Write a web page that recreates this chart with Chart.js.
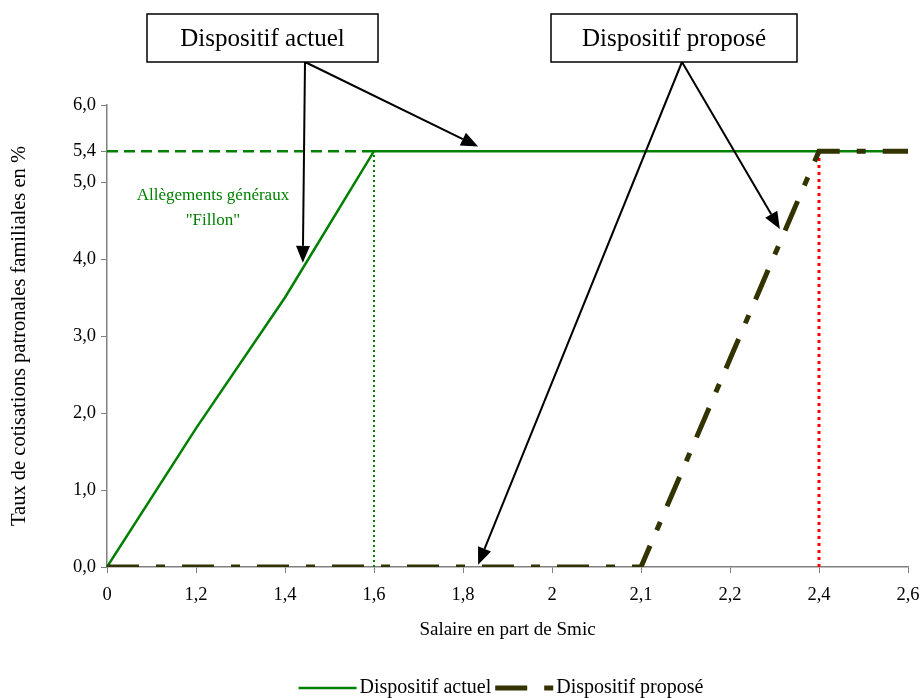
<!DOCTYPE html>
<html>
<head>
<meta charset="utf-8">
<script src="https://cdn.jsdelivr.net/npm/chart.js@4"></script>
<style>
  html, body { margin: 0; padding: 0; background: #fff; }
  #wrap { width: 922px; height: 698px; }
</style>
</head>
<body>
<div id="wrap"><canvas id="chart"></canvas></div>
<script>
// salaire en part de Smic (axe de catégories)
const categories = ['0', '1,2', '1,4', '1,6', '1,8', '2', '2,1', '2,2', '2,4', '2,6'];
const actuel = [0, 1.8, 3.5, 5.4, 5.4, 5.4, 5.4, 5.4, 5.4, 5.4];
const propose = [0, 0, 0, 0, 0, 0, 0, 2.7, 5.4, 5.4];
const yTicks = [0, 1, 2, 3, 4, 5, 5.4, 6];

const taux = 5.4;        // plafond des cotisations
const finActuel = 3;     // index de 1,6
const finPropose = 8;    // index de 2,4

const SERIF = '"Liberation Serif", "Times New Roman", serif';
const GREEN = '#008000';
const OLIVE = '#333300';

// repères pointillés
const guides = {
  id: 'guides',
  beforeDatasetsDraw(chart) {
    const { ctx, scales: { x, y } } = chart;
    const y0 = y.getPixelForValue(0), yT = y.getPixelForValue(taux);
    ctx.save();
    ctx.strokeStyle = GREEN;
    ctx.lineWidth = 2.5;
    ctx.setLineDash([11, 6]);
    ctx.beginPath();
    ctx.moveTo(x.getPixelForValue(0), yT);
    ctx.lineTo(x.getPixelForValue(finActuel), yT);
    ctx.stroke();

    ctx.lineWidth = 2;
    ctx.setLineDash([2, 3]);
    ctx.beginPath();
    ctx.moveTo(x.getPixelForValue(finActuel), y0);
    ctx.lineTo(x.getPixelForValue(finActuel), yT);
    ctx.stroke();

    ctx.strokeStyle = '#ff0000';
    ctx.lineWidth = 3;
    ctx.setLineDash([3, 4]);
    ctx.beginPath();
    ctx.moveTo(x.getPixelForValue(finPropose), y0);
    ctx.lineTo(x.getPixelForValue(finPropose), yT);
    ctx.stroke();
    ctx.restore();
  }
};

// encadrés + flèches
const callouts = [
  { text: 'Dispositif actuel', box: [147, 14, 231, 48], from: 305, to: [[2.2, 3.95], [4.17, 5.46]] },
  { text: 'Dispositif proposé', box: [551, 14, 246, 48], from: 682, to: [[4.17, 0.03], [7.56, 4.39]] }
];

function arrow(ctx, x1, y1, x2, y2) {
  const a = Math.atan2(y2 - y1, x2 - x1), len = 17, half = 7;
  const bx = x2 - len * Math.cos(a), by = y2 - len * Math.sin(a);
  ctx.beginPath();
  ctx.moveTo(x1, y1);
  ctx.lineTo(bx, by);
  ctx.stroke();
  ctx.beginPath();
  ctx.moveTo(x2, y2);
  ctx.lineTo(bx + half * Math.sin(a), by - half * Math.cos(a));
  ctx.lineTo(bx - half * Math.sin(a), by + half * Math.cos(a));
  ctx.closePath();
  ctx.fill();
}

const annotations = {
  id: 'annotations',
  afterDraw(chart) {
    const { ctx, scales: { x, y } } = chart;
    ctx.save();
    ctx.fillStyle = GREEN;
    ctx.font = '17px ' + SERIF;
    ctx.textAlign = 'center';
    ctx.textBaseline = 'middle';
    ctx.fillText('Allègements généraux', x.getPixelForValue(1.19), y.getPixelForValue(4.82));
    ctx.fillText('"Fillon"', x.getPixelForValue(1.19), y.getPixelForValue(4.5));

    ctx.strokeStyle = '#000';
    ctx.fillStyle = '#000';
    ctx.lineWidth = 2;
    callouts.forEach(c => {
      const [bx, by, bw, bh] = c.box;
      c.to.forEach(([i, v]) => arrow(ctx, c.from, by + bh, x.getPixelForValue(i), y.getPixelForValue(v)));
      ctx.fillStyle = '#fff';
      ctx.fillRect(bx, by, bw, bh);
      ctx.lineWidth = 1.5;
      ctx.strokeRect(bx, by, bw, bh);
      ctx.lineWidth = 2;
      ctx.fillStyle = '#000';
      ctx.font = '25px ' + SERIF;
      ctx.fillText(c.text, bx + bw / 2, by + bh / 2 + 1);
    });

    // légende
    ctx.font = '20px ' + SERIF;
    ctx.textAlign = 'left';
    const items = chart.data.datasets;
    const sym = 58, gap1 = 3, gap2 = 4;
    const widths = items.map(d => sym + gap1 + ctx.measureText(d.label).width);
    const total = widths.reduce((a, b) => a + b, 0) + gap2;
    let lx = 501 - total / 2;
    const ly = 688;
    items.forEach((d, k) => {
      ctx.strokeStyle = d.borderColor;
      ctx.lineWidth = d.borderWidth;
      ctx.lineCap = 'butt';
      ctx.setLineDash(d.borderDash || []);
      ctx.beginPath();
      ctx.moveTo(lx, ly);
      ctx.lineTo(lx + sym, ly);
      ctx.stroke();
      ctx.setLineDash([]);
      ctx.fillStyle = '#000';
      ctx.fillText(d.label, lx + sym + gap1, ly);
      lx += widths[k] + gap2;
    });
    ctx.restore();
  }
};

new Chart(document.getElementById('chart'), {
  type: 'line',
  data: {
    labels: categories,
    datasets: [
      {
        label: 'Dispositif actuel',
        data: actuel,
        borderColor: GREEN,
        backgroundColor: GREEN,
        borderWidth: 2.5,
        pointRadius: 0,
        tension: 0,
        order: 2
      },
      {
        label: 'Dispositif proposé',
        data: propose,
        borderColor: OLIVE,
        backgroundColor: OLIVE,
        borderWidth: 5,
        borderDash: [32, 17, 9, 17],
        borderCapStyle: 'butt',
        pointRadius: 0,
        tension: 0,
        order: 1
      }
    ]
  },
  options: {
    responsive: true,
    maintainAspectRatio: false,
    animation: false,
    layout: { padding: { top: 105, right: 14, left: 0, bottom: 35 } },
    plugins: {
      legend: { display: false },
      tooltip: { enabled: false }
    },
    scales: {
      x: {
        type: 'category',
        offset: false,
        grid: { drawOnChartArea: false, drawTicks: true, tickLength: 6, color: '#808080' },
        border: { color: '#808080', width: 1.5 },
        ticks: { color: '#000', font: { family: SERIF, size: 18.5 }, padding: 11, maxRotation: 0, autoSkip: false },
        title: { display: true, text: 'Salaire en part de Smic', color: '#000', font: { family: SERIF, size: 19 }, padding: { top: 0, bottom: 22 } },
        afterFit: s => { s.height = 96; s.paddingLeft = 0; s.paddingRight = 0; }
      },
      y: {
        min: 0,
        max: 6,
        afterBuildTicks: s => { s.ticks = yTicks.map(v => ({ value: v })); },
        grid: { drawOnChartArea: false, drawTicks: true, tickLength: 6, color: '#808080' },
        border: { color: '#808080', width: 1.5 },
        ticks: { color: '#000', font: { family: SERIF, size: 18.5 }, padding: 5, callback: v => v.toFixed(1).replace('.', ',') },
        title: { display: true, text: 'Taux de cotisations patronales familiales en %', color: '#000', font: { family: SERIF, size: 20.5 }, padding: { top: 7, bottom: 0 } },
        afterFit: s => { s.width = 107; }
      }
    }
  },
  plugins: [guides, annotations]
});
</script>
</body>
</html>
